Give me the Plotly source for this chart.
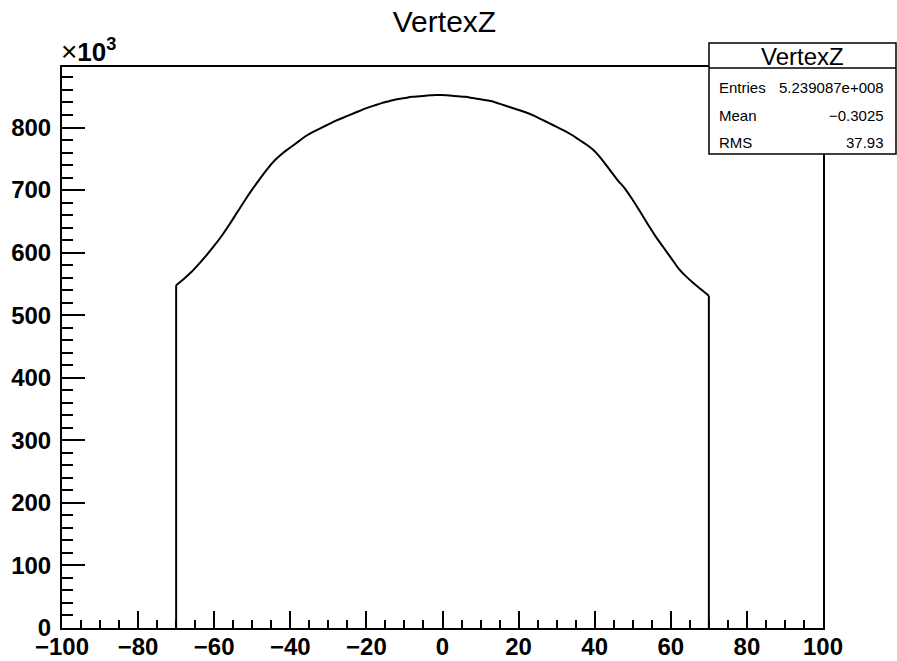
import plotly.graph_objects as go

# Bin centres (VertexZ) and entries (in units of 10^3)
vertex_z = [-70, -68, -66, -64, -62, -60, -58, -56, -54, -52, -50, -48, -46, -44, -42,
            -40, -38, -36, -34, -32, -30, -28, -26, -24, -22, -20, -18, -16, -14, -12,
            -10, -8, -6, -4, -2, 0, 2, 4, 6, 8, 10, 12, 14, 16, 18,
            20, 22, 24, 26, 28, 30, 32, 34, 36, 38, 40, 42, 44, 46, 48,
            50, 52, 54, 56, 58, 60, 62, 64, 66, 68, 70]
entries_k = [548, 558, 569, 582, 596, 611, 627, 645, 664, 683, 701, 718, 734, 748, 759,
             768, 777, 786, 793, 799, 805, 811, 816, 821, 826, 831, 835, 839, 842, 845,
             847, 849, 850, 851, 852, 852, 851, 850, 849, 847, 845, 843, 840, 836, 832,
             828, 824, 819, 813, 807, 801, 795, 788, 780, 772, 762, 748, 732, 716, 702,
             684, 665, 645, 626, 609, 592, 575, 562, 551, 541, 531]

title_text = "VertexZ"
stats_labels = ["Entries", "Mean", "RMS"]
stats_values = ["5.239087e+008", "\u22120.3025", "37.93"]
x_range = [-100, 100]
y_range = [0, 896.7]

fig = go.Figure()
# smooth curve through the bin contents
fig.add_trace(go.Scatter(x=vertex_z, y=entries_k, mode="lines", line_shape="spline",
                         line=dict(color="black", width=2), hoverinfo="skip",
                         showlegend=False))
# vertical edges down to zero at both ends
for i in (0, -1):
    fig.add_trace(go.Scatter(x=[vertex_z[i], vertex_z[i]], y=[0, entries_k[i]], mode="lines",
                             line=dict(color="black", width=2), hoverinfo="skip",
                             showlegend=False))

W, H = 897, 661
L, R, T, B = 62, 823, 67, 628
pw, ph = R - L, B - T

def px(xp):
    return (xp - L) / pw

def py(yp):
    return (B - yp) / ph

tickfont = dict(family="Liberation Sans", size=24, color="black", weight="bold")

fig.update_layout(
    width=W, height=H,
    margin=dict(l=L, r=W - R, t=T, b=H - B, pad=0),
    paper_bgcolor="white", plot_bgcolor="white",
    title=dict(text=title_text, x=0.4955, xanchor="center", y=1 - 21 / H, yanchor="middle",
               font=dict(family="Liberation Sans", size=30, color="black"),
               automargin=False),
    xaxis=dict(range=x_range, dtick=20, tick0=0, ticks="inside", ticklen=17, tickwidth=2,
               tickcolor="black", showline=True, linecolor="black", linewidth=2,
               mirror=True, showgrid=False, zeroline=False, tickfont=tickfont,
               automargin=False, ticklabelstandoff=-4,
               minor=dict(dtick=5, ticks="inside", ticklen=8, tickwidth=2,
                          tickcolor="black", showgrid=False)),
    yaxis=dict(range=y_range, dtick=100, tick0=0, ticks="inside", ticklen=23, tickwidth=2,
               tickcolor="black", showline=True, linecolor="black", linewidth=2,
               mirror=True, showgrid=False, zeroline=False, tickfont=tickfont,
               ticklabelstandoff=4, automargin=False,
               minor=dict(dtick=20, ticks="inside", ticklen=11, tickwidth=2,
                          tickcolor="black", showgrid=False)),
)

# x10^3 multiplier
fig.add_annotation(xref="paper", yref="paper", x=0, y=1, xanchor="left", yanchor="bottom",
                   yshift=-2, xshift=-3, showarrow=False,
                   text="<span style='font-size:28px'>\u00d7</span><b>10<sup>3</sup></b>",
                   font=dict(family="Liberation Sans", size=26, color="black"))

# Stats box
bx0, bx1, by0, by1 = 709, 896, 43, 154
fig.add_shape(type="rect", xref="paper", yref="paper",
              x0=px(bx0), x1=px(bx1), y0=py(by1), y1=py(by0),
              line=dict(color="black", width=1.5), fillcolor="white", layer="above")
fig.add_shape(type="line", xref="paper", yref="paper",
              x0=px(bx0), x1=px(bx1), y0=py(68), y1=py(68),
              line=dict(color="black", width=1.5), layer="above")
fig.add_annotation(xref="paper", yref="paper", x=px(802), y=py(56), xanchor="center",
                   yanchor="middle", showarrow=False, text=title_text,
                   font=dict(family="Liberation Sans", size=24, color="black"))
row_y = [87, 115, 142]
for lab, val, yy in zip(stats_labels, stats_values, row_y):
    fig.add_annotation(xref="paper", yref="paper", x=px(717), y=py(yy), xanchor="left",
                       yanchor="middle", showarrow=False, text=lab,
                       font=dict(family="Liberation Sans", size=15, color="black"))
    fig.add_annotation(xref="paper", yref="paper", x=px(886), y=py(yy), xanchor="right",
                       yanchor="middle", showarrow=False, text=val,
                       font=dict(family="Liberation Sans", size=15, color="black"))

fig.write_html("out.html")
